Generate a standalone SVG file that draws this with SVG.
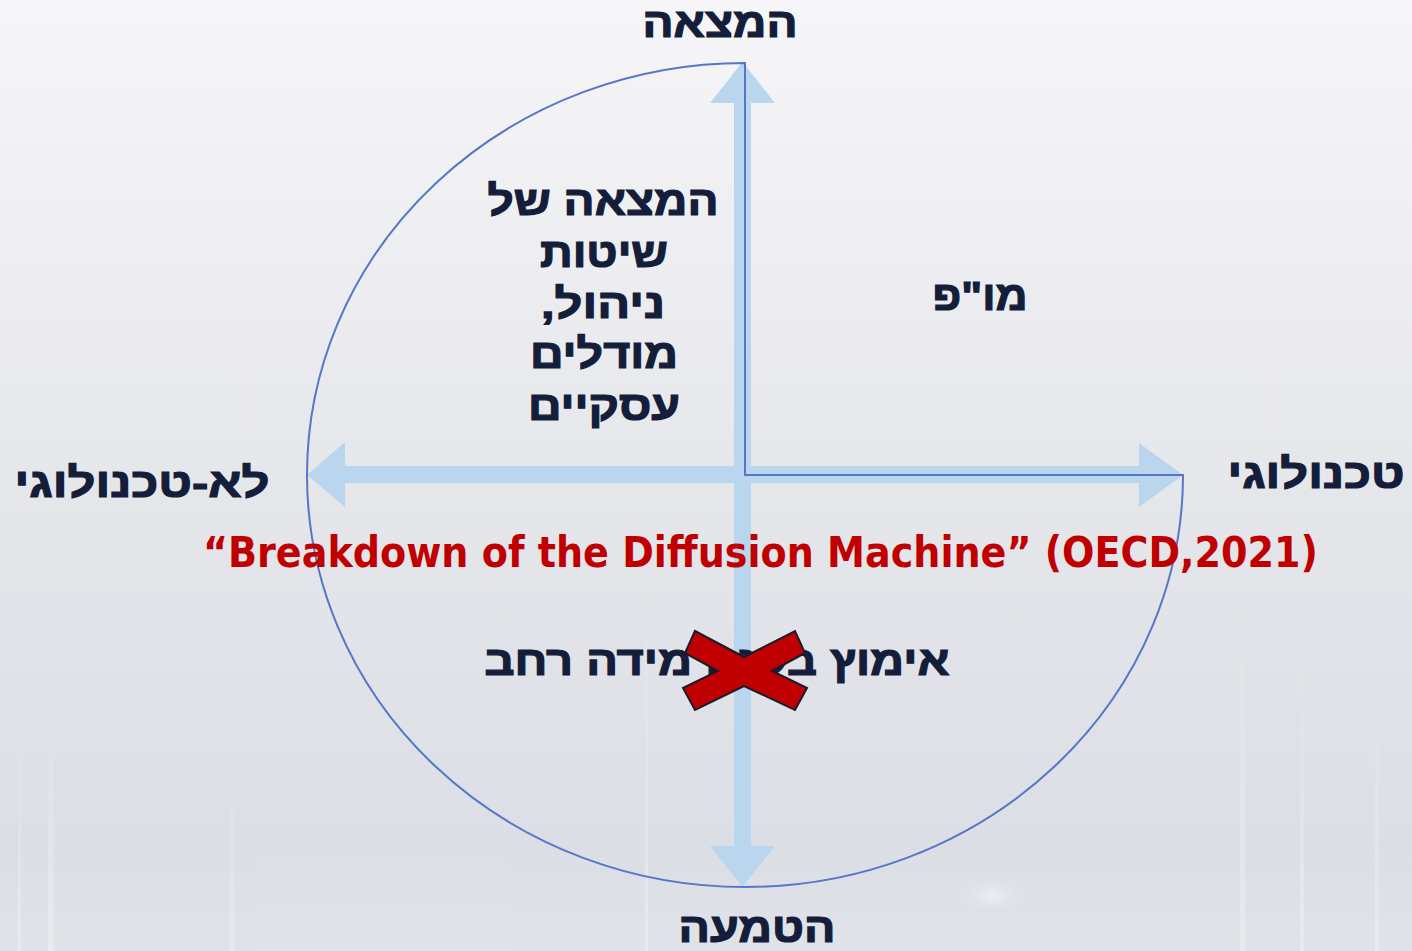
<svg xmlns="http://www.w3.org/2000/svg" width="1412" height="951" viewBox="0 0 1412 951">
<defs>
<linearGradient id="bg" x1="0" y1="0" x2="0" y2="1">
<stop offset="0" stop-color="#f6f6f8"/>
<stop offset="0.5" stop-color="#e6e7eb"/>
<stop offset="1" stop-color="#d8dce3"/>
</linearGradient>
<linearGradient id="stripe" x1="0" y1="0" x2="0" y2="1">
<stop offset="0" stop-color="#ffffff" stop-opacity="0"/>
<stop offset="1" stop-color="#ffffff" stop-opacity="0.55"/>
</linearGradient>
<linearGradient id="band" x1="0" y1="0" x2="0" y2="1">
<stop offset="0" stop-color="#ffffff" stop-opacity="0"/>
<stop offset="1" stop-color="#ffffff" stop-opacity="0.35"/>
</linearGradient>
<radialGradient id="glow" cx="0.5" cy="0.5" r="0.5">
<stop offset="0" stop-color="#ffffff" stop-opacity="0.9"/>
<stop offset="1" stop-color="#cfe3f5" stop-opacity="0"/>
</radialGradient>
<style>
.heb{font-family:"Liberation Sans","DejaVu Sans",sans-serif;font-weight:bold;font-size:41px;fill:#141d3a;stroke:#141d3a;stroke-width:1.2px;text-anchor:middle}
.red{font-family:"DejaVu Sans Condensed","DejaVu Sans",sans-serif;font-weight:bold;font-size:42px;fill:#c00000}
.arrow{fill:#bad5ee}
.loop{fill:none;stroke:#5676c9;stroke-width:2}
</style>
</defs>
<rect width="1412" height="951" fill="url(#bg)"/>
<g id="background-stripes" opacity="0.6">
<rect x="18" y="710" width="3" height="241" fill="url(#stripe)"/>
<rect x="48" y="690" width="6" height="261" fill="url(#stripe)"/>
<rect x="230" y="760" width="4" height="191" fill="url(#stripe)"/>
<rect x="645" y="580" width="3" height="371" fill="url(#stripe)"/>
<rect x="1240" y="600" width="5" height="351" fill="url(#stripe)"/>
<rect x="1300" y="640" width="4" height="311" fill="url(#stripe)"/>
<rect x="1375" y="680" width="4" height="271" fill="url(#stripe)"/>
<rect x="0" y="840" width="1412" height="111" fill="url(#band)"/>
<ellipse cx="992" cy="895" rx="40" ry="22" fill="url(#glow)"/>
</g>
<g id="connectors">
<g id="vertical-axis">
<rect class="arrow" x="734" y="100" width="17" height="750"/>
<polygon class="arrow" points="742.5,62 775,103 710,103"/>
<polygon class="arrow" points="742.5,887 775,846 710,846"/>
</g>
<g id="horizontal-axis">
<rect class="arrow" x="340" y="466" width="805" height="17"/>
<polygon class="arrow" points="307,475 345,442 345,507"/>
<polygon class="arrow" points="1183,475 1139,443 1139,507"/>
</g>
<path id="loop" class="loop" d="M745,63 L745,475 L1183,475 A438,412 0 1 1 745,63 Z"/>
</g>
<g id="node-invention">
<text class="heb" direction="rtl" x="720" y="37" textLength="155" lengthAdjust="spacingAndGlyphs">המצאה</text>
</g>
<g id="node-diffusion">
<text class="heb" direction="rtl" x="757" y="942" textLength="157" lengthAdjust="spacingAndGlyphs">הטמעה</text>
</g>
<g id="node-technological">
<text class="heb" direction="rtl" x="1316" y="488" textLength="177" lengthAdjust="spacingAndGlyphs">טכנולוגי</text>
</g>
<g id="node-non-technological">
<text class="heb" direction="rtl" x="142" y="497" textLength="255" lengthAdjust="spacingAndGlyphs">לא-טכנולוגי</text>
</g>
<g id="node-rnd">
<text class="heb" direction="rtl" x="980" y="310" textLength="95" lengthAdjust="spacingAndGlyphs">מו"פ</text>
</g>
<g id="node-management-innovation">
<text class="heb" direction="rtl" x="603" y="215" textLength="231" lengthAdjust="spacingAndGlyphs">המצאה של</text>
<text class="heb" direction="rtl" x="604" y="267" textLength="128" lengthAdjust="spacingAndGlyphs">שיטות</text>
<text class="heb" direction="rtl" x="603" y="318" textLength="124" lengthAdjust="spacingAndGlyphs">ניהול,</text>
<text class="heb" direction="rtl" x="604" y="368" textLength="148" lengthAdjust="spacingAndGlyphs">מודלים</text>
<text class="heb" direction="rtl" x="604" y="420" textLength="152" lengthAdjust="spacingAndGlyphs">עסקיים</text>
</g>
<g id="node-oecd-caption">
<text class="red" x="203" y="567" textLength="1115" lengthAdjust="spacingAndGlyphs">“Breakdown of the Diffusion Machine” (OECD,2021)</text>
</g>
<g id="node-wide-adoption">
<text class="heb" direction="rtl" x="717" y="675" textLength="465" lengthAdjust="spacingAndGlyphs">אימוץ בקנה מידה רחב</text>
<polygon points="695,631 744,657 795,631 805,653 772,671 807,688 795,710 744,686 695,710 683,688 718,671 685,653" fill="#c00000" stroke="#1b1b2b" stroke-width="2" stroke-linejoin="miter"/>
</g>
</svg>
